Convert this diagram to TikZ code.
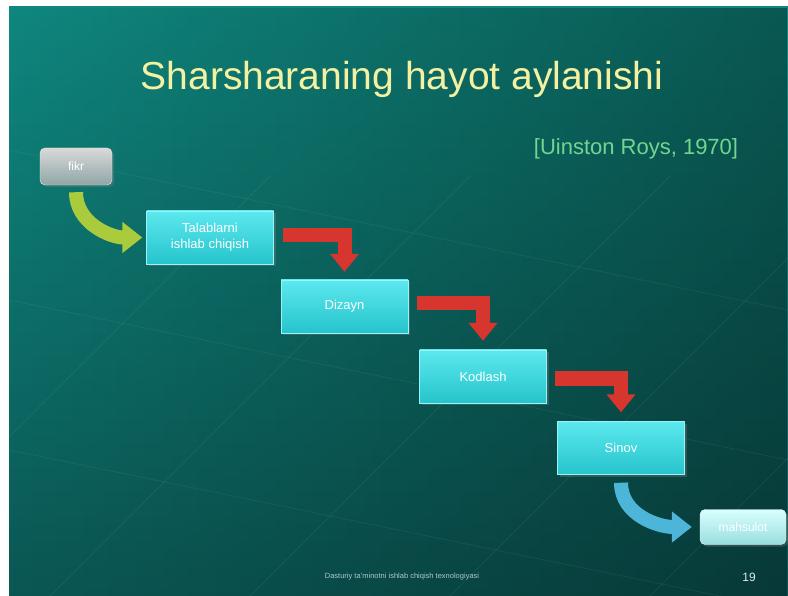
\documentclass[tikz,border=0pt]{standalone}
\usepackage{fontspec}
\setmainfont{Liberation Sans}
\usetikzlibrary{arrows.meta,shadows,fadings}

\definecolor{slidetop}{HTML}{0F877E}
\definecolor{slidebot}{HTML}{0B5754}
\definecolor{titleyellow}{HTML}{F4F1A2}
\definecolor{citegreen}{HTML}{72D690}
\definecolor{boxtop}{HTML}{5CE8EE}
\definecolor{boxbot}{HTML}{26C4CC}
\definecolor{boxline}{HTML}{9AF4F6}
\definecolor{arrowred}{HTML}{D6362E}
\definecolor{arrowgreen}{HTML}{A9CB3C}
\definecolor{arrowblue}{HTML}{4DB5D8}
\definecolor{footgrey}{HTML}{A9CACA}

\begin{document}
\begin{tikzpicture}[x=1pt,y=-1pt,
    stage/.style={rectangle, draw=boxline, top color=boxtop, bottom color=boxbot,
        minimum width=127pt, minimum height=53pt, text=white, align=center,
        font=\fontsize{13}{16}\selectfont,
        drop shadow={shadow xshift=2pt, shadow yshift=-2pt, opacity=0.35}},
    endbox/.style={rectangle, rounded corners=5pt, text=white,
        font=\fontsize{12}{14}\selectfont,
        drop shadow={shadow xshift=2pt, shadow yshift=-2pt, opacity=0.35}},
    fall/.style={line width=14pt, arrowred, line join=miter,
        -{Triangle[width=28pt,length=18pt]}},
    curvearrow/.style={line width=14pt, -{Triangle[width=30pt,length=20pt]}},
    gridline/.style={white, opacity=0.06, line width=0.8pt}]

    \useasboundingbox (0,0) rectangle (788,596);
    \shade[top color=slidetop, bottom color=slidebot] (9,7) rectangle (788,596);
    \fill[black, path fading=west, fill opacity=0.35] (9,7) rectangle (788,596);

    \foreach \x in {-150,50,250,450,650}
        \draw[gridline] (\x,596) -- ++(420,-420);
    \foreach \y in {150,300,450}
        \draw[gridline] (9,\y) -- ++(779,160);

    \node[text=titleyellow, font=\fontsize{39}{44}\selectfont] (title) at (402,79) {Sharsharaning hayot aylanishi};
    \node[text=citegreen, font=\fontsize{22}{26}\selectfont] (cite) at (636,149) {[Uinston Roys, 1970]};

    \node[endbox, top color=gray!30!white, bottom color=gray!75!teal!70!white, draw=gray!15,
        minimum width=72pt, minimum height=37pt] (fikr) at (76,166.5) {fikr};
    \node[stage] (tal) at (210,237.5) {Talablarni\\ishlab chiqish};
    \node[stage] (diz) at (344.5,306.5) {Dizayn};
    \node[stage] (kod) at (483,376.5) {Kodlash};
    \node[stage] (sin) at (621,448) {Sinov};
    \node[endbox, top color=cyan!15!white, bottom color=cyan!35!teal!40!white, draw=cyan!10,
        minimum width=86pt, minimum height=35pt] (mah) at (743,527) {mahsulot};

    \draw[curvearrow, arrowgreen] ([yshift=-7pt]fikr.south) to[out=-90,in=180] ([xshift=-4pt]tal.west);
    \draw[fall] ([xshift=9pt,yshift=2pt]tal.east) -| ([yshift=8pt]diz.north);
    \draw[fall] ([xshift=9pt,yshift=3pt]diz.east) -| ([yshift=9pt]kod.north);
    \draw[fall] ([xshift=8pt,yshift=-2pt]kod.east) -| ([yshift=9pt]sin.north);
    \draw[curvearrow, arrowblue] ([yshift=-8pt]sin.south) to[out=-90,in=180] ([xshift=-8pt]mah.west);

    \node[text=footgrey, font=\fontsize{7.5}{9}\selectfont] (foot) at (402,577) {Dasturiy ta'minotni ishlab chiqish texnologiyasi};
    \node[text=white!85!teal, font=\fontsize{12}{14}\selectfont] (page) at (749,577) {19};
\end{tikzpicture}
\end{document}
